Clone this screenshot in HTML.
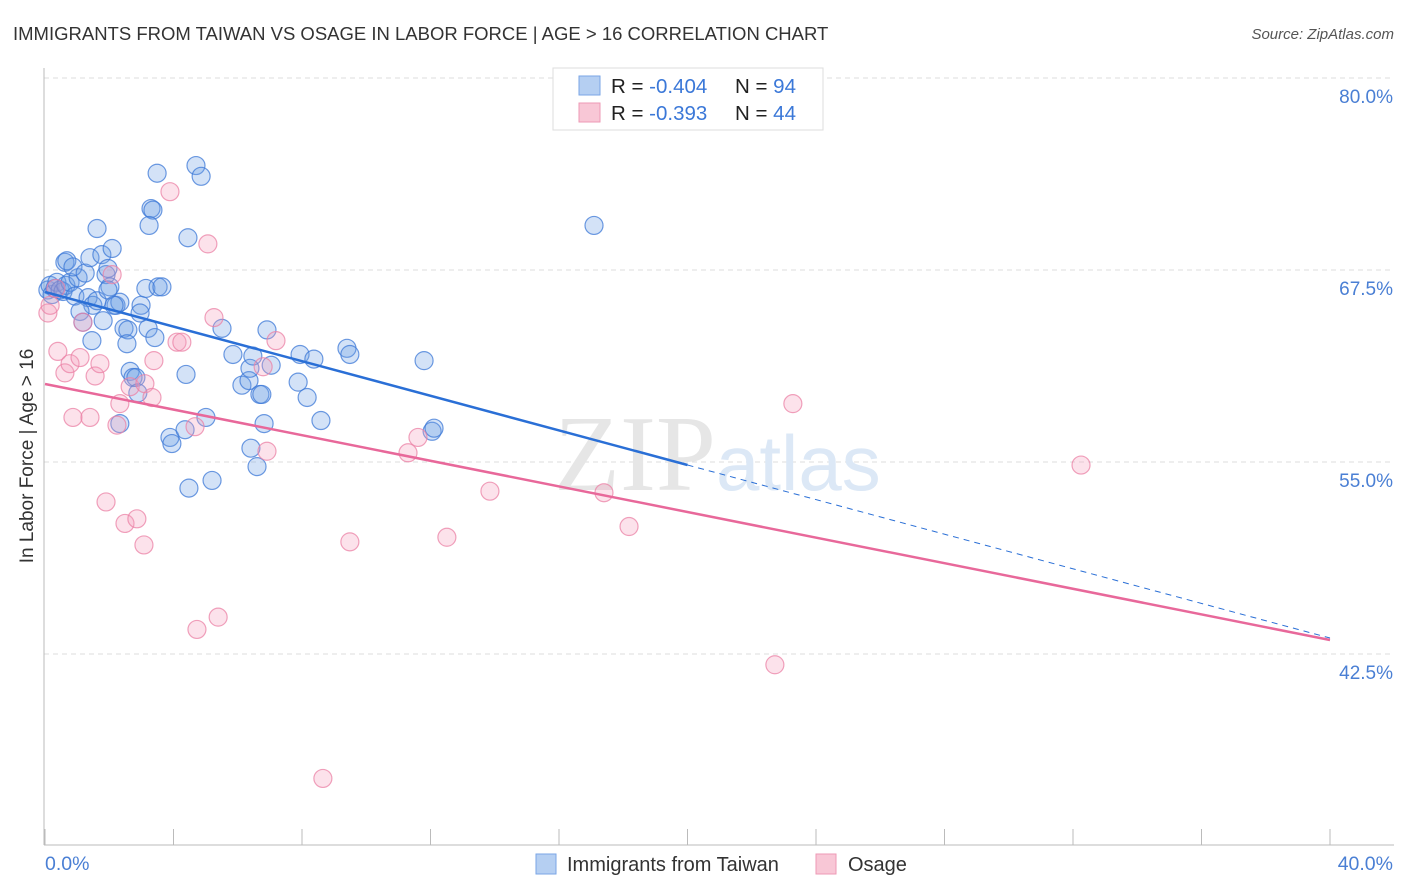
<!DOCTYPE html>
<html><head><meta charset="utf-8"><style>
body{margin:0;background:#fff;font-family:"Liberation Sans",sans-serif;}
svg{display:block}
</style></head><body>
<svg id="chart" width="1406" height="892">
<text x="13" y="40" font-size="18.5" fill="#333">IMMIGRANTS FROM TAIWAN VS OSAGE IN LABOR FORCE | AGE &gt; 16 CORRELATION CHART</text>
<text x="1394" y="39" font-size="15" fill="#555" font-style="italic" text-anchor="end">Source: ZipAtlas.com</text>
<g id="grid"></g>
<text x="716" y="490" font-size="108" font-family="Liberation Serif,serif" fill="#e6e6e6" text-anchor="end">ZIP</text>
<text x="716" y="490" font-size="78" fill="#dce8f6">atlas</text>
<line x1="44" y1="68" x2="44" y2="845" stroke="#bbb"/>
<line x1="44" y1="845" x2="1394" y2="845" stroke="#bbb"/>
<g id="ticks"></g>
<g id="ylabels"></g>
<g id="pts"></g>
<g id="trends"></g>
<text x="33" y="456" font-size="19" fill="#333" text-anchor="middle" transform="rotate(-90 33 456)">In Labor Force | Age &gt; 16</text>
<text x="45" y="870" font-size="19.5" fill="#4a7fd4">0.0%</text>
<text x="1393" y="870" font-size="19.5" fill="#4a7fd4" text-anchor="end">40.0%</text>
<g>
<rect x="553" y="68" width="270" height="62" fill="#fff" stroke="#ddd"/>
<rect x="579" y="76" width="21" height="19" fill="#b5cff2" stroke="#7aa6e6"/>
<rect x="579" y="103" width="21" height="19" fill="#f8c7d6" stroke="#ee9ab5"/>
<text x="611" y="93" font-size="20.5" fill="#222">R = <tspan fill="#3b78d8">-0.404</tspan></text>
<text x="735" y="93" font-size="20.5" fill="#222">N = <tspan fill="#3b78d8">94</tspan></text>
<text x="611" y="120" font-size="20.5" fill="#222">R = <tspan fill="#3b78d8"> -0.393</tspan></text>
<text x="735" y="120" font-size="20.5" fill="#222">N = <tspan fill="#3b78d8">44</tspan></text>
</g>
<g>
<rect x="536" y="854" width="20" height="20" fill="#b5cff2" stroke="#7aa6e6"/>
<text x="567" y="871" font-size="20" fill="#333">Immigrants from Taiwan</text>
<rect x="816" y="854" width="20" height="20" fill="#f8c7d6" stroke="#ee9ab5"/>
<text x="848" y="871" font-size="20" fill="#333">Osage</text>
</g>
</svg>
<script>
const blueX=[0.09,0.16,0.22,0.31,0.37,0.47,0.56,0.65,0.78,0.93,1.03,0.62,0.68,0.87,1.25,1.40,1.62,1.77,2.09,1.90,1.96,2.02,1.34,1.49,1.62,1.09,1.18,1.46,1.81,2.21,2.33,2.46,2.58,2.55,1.96,2.15,2.99,2.96,3.14,3.21,3.42,3.52,3.64,2.65,2.74,2.83,2.89,2.33,3.89,3.95,4.36,4.48,4.39,3.49,3.30,3.36,3.24,4.70,4.86,4.45,5.01,5.20,5.51,5.85,6.13,6.35,6.38,6.47,6.69,6.75,6.82,6.91,7.04,6.41,6.60,7.88,7.94,8.16,8.37,8.59,9.40,9.49,11.80,12.05,12.11,17.09];
const blueY=[66.2,66.5,65.9,66.3,66.7,66.2,66.1,66.5,66.7,65.8,67.0,68.0,68.1,67.7,67.3,68.3,70.2,68.5,68.9,67.2,67.6,66.4,65.7,65.2,65.5,64.8,64.1,62.9,64.2,65.2,65.4,63.7,63.6,62.7,66.2,65.2,65.2,64.7,66.3,63.7,63.1,66.4,66.4,60.9,60.5,60.5,59.5,57.5,56.6,56.2,57.1,53.3,60.7,73.8,71.5,71.4,70.4,74.3,73.6,69.6,57.9,53.8,63.7,62.0,60.0,60.3,61.1,61.9,59.4,59.4,57.5,63.6,61.3,55.9,54.7,60.2,62.0,59.2,61.7,57.7,62.4,62.0,61.6,57.0,57.2,70.4];
const pinkX=[0.09,0.16,0.34,0.40,0.62,0.87,0.78,1.09,1.18,1.40,1.56,1.71,1.90,2.09,2.24,2.33,2.49,2.65,2.86,3.08,3.11,3.33,3.39,3.89,4.11,4.26,4.67,4.73,5.07,5.26,5.39,6.79,6.91,7.19,8.65,9.49,11.30,11.61,12.51,13.85,17.40,18.18,22.72,23.28,32.25];
const pinkY=[64.7,65.2,66.3,62.2,60.8,57.9,61.4,61.8,64.1,57.9,60.6,61.4,52.4,67.2,57.4,58.8,51.0,59.9,51.3,49.6,60.1,59.2,61.6,72.6,62.8,62.8,57.3,44.1,69.2,64.4,44.9,61.2,55.7,62.9,34.4,49.8,55.6,56.6,50.1,53.1,53.0,50.8,41.8,58.8,54.8];
const yTicks=[80,67.5,55,42.5];
const yTickLabels=["80.0%","67.5%","55.0%","42.5%"];
const xTicks=[0,4,8,12,16,20,24,28,32,36,40];
const blueTrend=[66.07,43.54];
const pinkTrend=[60.08,43.41];
const blueSolidEnd=20;
const NS='http://www.w3.org/2000/svg';
const sx=v=>45+v*32.125;
const sy=v=>78+(80-v)*15.36;
function mk(tag,attrs,parent){const e=document.createElementNS(NS,tag);for(const k in attrs)e.setAttribute(k,attrs[k]);parent.appendChild(e);return e;}
const grid=document.getElementById('grid'),yl=document.getElementById('ylabels'),tk=document.getElementById('ticks');
yTicks.forEach((v,i)=>{
 const l=mk('line',{x1:44,x2:1394,y1:sy(v),y2:sy(v),stroke:'#ddd','stroke-dasharray':'5,4'},grid);
 
 
 const t=mk('text',{x:1393,y:sy(v)+25,'font-size':19,fill:'#4a7fd4','text-anchor':'end'},yl);
 t.textContent=yTickLabels[i];
 
 
});
xTicks.forEach(v=>{
 const l=mk('line',{x1:sx(v),x2:sx(v),y1:829,y2:845,stroke:'#bbb'},tk);
 
 
});
const pts=document.getElementById('pts');
blueX.forEach((x,i)=>{
 const c=mk('circle',{cx:sx(x),cy:sy(blueY[i]),r:9,fill:'rgba(110,160,230,0.3)',stroke:'rgba(60,120,215,0.75)','stroke-width':1.2},pts);
 
 
});
pinkX.forEach((x,i)=>{
 const c=mk('circle',{cx:sx(x),cy:sy(pinkY[i]),r:9,fill:'rgba(245,160,190,0.3)',stroke:'rgba(235,130,165,0.75)','stroke-width':1.2},pts);
 
 
});
const tr=document.getElementById('trends');
const bAt=x=>blueTrend[0]+(blueTrend[1]-blueTrend[0])*x/40;
let l1=mk('line',{x1:sx(0),y1:sy(bAt(0)),x2:sx(blueSolidEnd),y2:sy(bAt(blueSolidEnd)),stroke:'#2a6fd6','stroke-width':2.5},tr);


let l2=mk('line',{x1:sx(blueSolidEnd),y1:sy(bAt(blueSolidEnd)),x2:sx(40),y2:sy(bAt(40)),stroke:'#2a6fd6','stroke-width':1,'stroke-dasharray':'6,5'},tr);


let l3=mk('line',{x1:sx(0),y1:sy(pinkTrend[0]),x2:sx(40),y2:sy(pinkTrend[1]),stroke:'#e8689a','stroke-width':2.5},tr);


</script>
</body></html>
